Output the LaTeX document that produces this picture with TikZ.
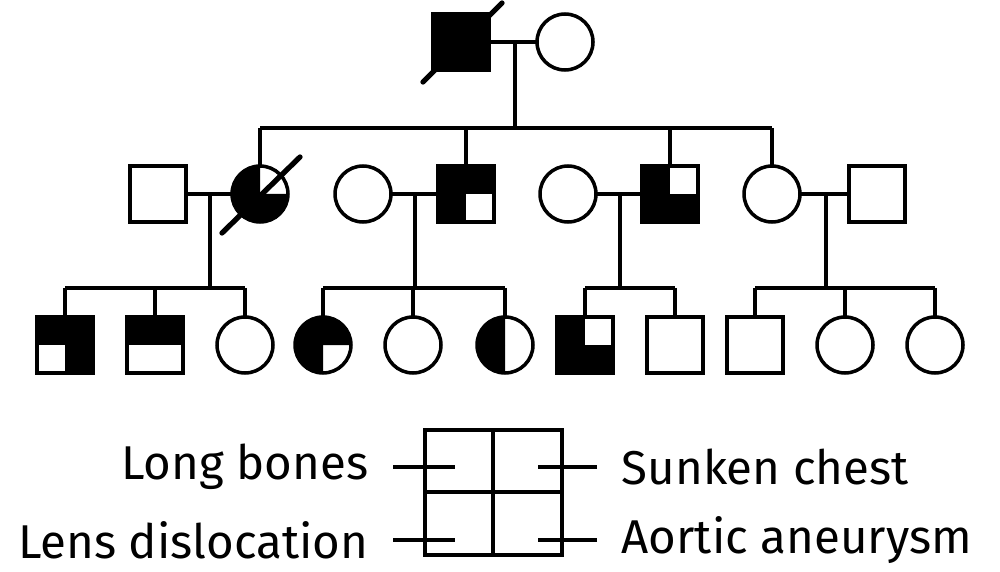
\documentclass[tikz,border=0pt]{standalone}
\usepackage{fontspec}
\setmainfont{Fira Sans}
\begin{document}
\newcommand\cq[2]{\fill (#1.center) -- (#1.#2) arc[start angle=#2, delta angle=90, radius=28] -- cycle;}
\newcommand\sq[2]{\fill (#1.center) rectangle (#1.#2);}
\begin{tikzpicture}[x=0.02cm,y=0.02cm,line width=2pt,
	man/.style={draw, rectangle, minimum size=1.12cm, inner sep=0pt, outer sep=0pt},
	woman/.style={draw, circle, minimum size=1.12cm, inner sep=0pt, outer sep=0pt},
	lbl/.style={font=\fontsize{27}{32}\selectfont, inner sep=0pt}]

	\useasboundingbox (0,0) rectangle (1000,-571);

	% generation 1
	\node[man,fill=black] (g1m) at (461,-42) {};
	\node[woman] (g1w) at (565,-42) {};
	\draw[line cap=round, line width=3pt] (423,-82) -- (502,-3);
	\draw (g1m) -- (g1w);
	\draw (515,-42) -- (515,-128);
	\draw (260,-128) -- (772,-128);

	% generation 2
	\node[man] (a1) at (158,-194) {};
	\node[woman] (a2) at (260,-194) {};
	\node[woman] (a3) at (363,-194) {};
	\node[man] (a4) at (466,-194) {};
	\node[woman] (a5) at (568,-194) {};
	\node[man] (a6) at (670,-194) {};
	\node[woman] (a7) at (772,-194) {};
	\node[man] (a8) at (877,-194) {};
	\foreach \n in {a2,a4,a6,a7}
		\draw (\n.north) -- (\n.north |- 0,-128);
	\cq{a2}{90} \cq{a2}{180} \cq{a2}{270}
	\sq{a4}{north west} \sq{a4}{north east} \sq{a4}{south west}
	\sq{a6}{north west} \sq{a6}{south west} \sq{a6}{south east}
	\draw[line cap=round, line width=3pt] (222,-233) -- (300,-157);
	\draw (a1) -- (a2);
	\draw (a3) -- (a4);
	\draw (a5) -- (a6);
	\draw (a7) -- (a8);
	\foreach \x in {210,415,620,826}
		\draw (\x,-194) -- (\x,-288);

	% generation 3
	\node[man] (b1) at (65,-345) {};
	\node[man] (b2) at (155,-345) {};
	\node[woman] (b3) at (245,-345) {};
	\node[woman] (b4) at (323,-345) {};
	\node[woman] (b5) at (413,-345) {};
	\node[woman] (b6) at (505,-345) {};
	\node[man] (b7) at (585,-345) {};
	\node[man] (b8) at (675,-345) {};
	\node[man] (b9) at (755,-345) {};
	\node[woman] (b10) at (845,-345) {};
	\node[woman] (b11) at (935,-345) {};
	\foreach \n in {b1,b2,b3,b4,b5,b6,b7,b8,b9,b10,b11}
		\draw (\n.north) -- (\n.north |- 0,-288);
	\draw (b1.north |- 0,-288) -- (b3.north |- 0,-288);
	\draw (b4.north |- 0,-288) -- (b6.north |- 0,-288);
	\draw (b7.north |- 0,-288) -- (b8.north |- 0,-288);
	\draw (b9.north |- 0,-288) -- (b11.north |- 0,-288);
	\sq{b1}{north west} \sq{b1}{north east} \sq{b1}{south east}
	\sq{b2}{north west} \sq{b2}{north east}
	\cq{b4}{0} \cq{b4}{90} \cq{b4}{180}
	\cq{b6}{90} \cq{b6}{180}
	\sq{b7}{north west} \sq{b7}{south west} \sq{b7}{south east}

	% legend
	\draw (425,-430) rectangle (562,-555);
	\draw (493,-430) -- (493,-555);
	\draw (425,-492) -- (562,-492);
	\node[lbl, anchor=east] (lb) at (370,-467) {Long bones};
	\node[lbl, anchor=east] (ld) at (370,-540) {Lens dislocation};
	\node[lbl, anchor=west] (sc) at (620,-467) {Sunken chest};
	\node[lbl, anchor=west] (aa) at (620,-540) {Aortic aneurysm};
	\coordinate (lbe) at (455,-467);
	\coordinate (lde) at (455,-540);
	\coordinate (sce) at (538,-467);
	\coordinate (aae) at (538,-540);
	\draw (lb.east) ++(23,0) -- (lbe);
	\draw (ld.east) ++(23,0) -- (lde);
	\draw (sc.west) ++(-23,0) -- (sce);
	\draw (aa.west) ++(-23,0) -- (aae);

\end{tikzpicture}
\end{document}
